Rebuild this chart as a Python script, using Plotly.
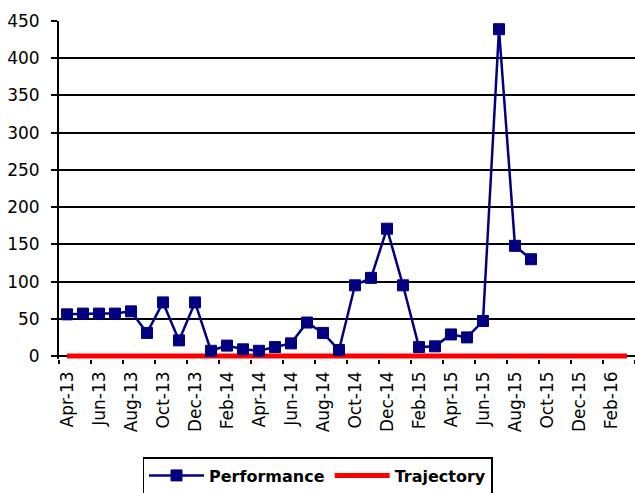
import plotly.graph_objects as go

# Monthly categories, Apr-13 .. Mar-16
months = ["Apr-13", "May-13", "Jun-13", "Jul-13", "Aug-13", "Sep-13", "Oct-13", "Nov-13",
          "Dec-13", "Jan-14", "Feb-14", "Mar-14", "Apr-14", "May-14", "Jun-14", "Jul-14",
          "Aug-14", "Sep-14", "Oct-14", "Nov-14", "Dec-14", "Jan-15", "Feb-15", "Mar-15",
          "Apr-15", "May-15", "Jun-15", "Jul-15", "Aug-15", "Sep-15", "Oct-15", "Nov-15",
          "Dec-15", "Jan-16", "Feb-16", "Mar-16"]

performance = [56, 57, 57, 57, 60, 31, 72, 21, 72, 7, 14, 9, 7, 12, 17, 45,
               31, 8, 95, 105, 171, 95, 12, 13, 29, 25, 47, 439, 148, 130]

trajectory = [0] * len(months)

FONT = "DejaVu Sans"
NAVY = "#000080"

fig = go.Figure()

# Trajectory first so the performance markers sit on top of it
fig.add_trace(go.Scatter(
    x=months, y=trajectory, name="Trajectory", mode="lines",
    line=dict(color="#FF0000", width=5), legendrank=2, cliponaxis=False,
))

fig.add_trace(go.Scatter(
    x=months[:len(performance)], y=performance, name="Performance",
    mode="lines+markers",
    line=dict(color=NAVY, width=2.5),
    marker=dict(symbol="square", size=11, color=NAVY, line=dict(color=NAVY, width=1)),
    legendrank=1, cliponaxis=False,
))

fig.update_layout(
    width=635, height=493,
    margin=dict(l=59, r=0, t=21, b=134),
    paper_bgcolor="white", plot_bgcolor="white",
    font=dict(family=FONT, size=16, color="black"),
    showlegend=True,
    legend=dict(
        orientation="h", xref="container", yref="container",
        x=0.5, xanchor="center", y=1 - 457 / 493, yanchor="top",
        bordercolor="black", borderwidth=1.5, bgcolor="white",
        font=dict(family=FONT, size=16, color="black", weight="bold"),
        itemwidth=55, tracegroupgap=0,
    ),
    xaxis=dict(
        type="category", categoryorder="array", categoryarray=months,
        range=[-0.5, len(months) - 0.5],
        tickson="boundaries", dtick=2, tickangle=-90,
        ticks="outside", ticklen=4, tickwidth=1.5, tickcolor="black",
        showline=False, showgrid=False, zeroline=False,
        ticklabelstandoff=8,
        tickfont=dict(family=FONT, size=17),
    ),
    yaxis=dict(
        # a few units below zero so the thick zero-level line is not clipped
        range=[-4, 450], tickvals=list(range(0, 451, 50)),
        ticks="outside", ticklen=6, tickwidth=1.5, tickcolor="black",
        showline=True, linecolor="black", linewidth=2,
        showgrid=True, gridcolor="black", gridwidth=2,
        zeroline=True, zerolinecolor="black", zerolinewidth=2,
        ticklabelstandoff=8,
        tickfont=dict(family=FONT, size=17),
    ),
)

fig.write_html("out.html")
